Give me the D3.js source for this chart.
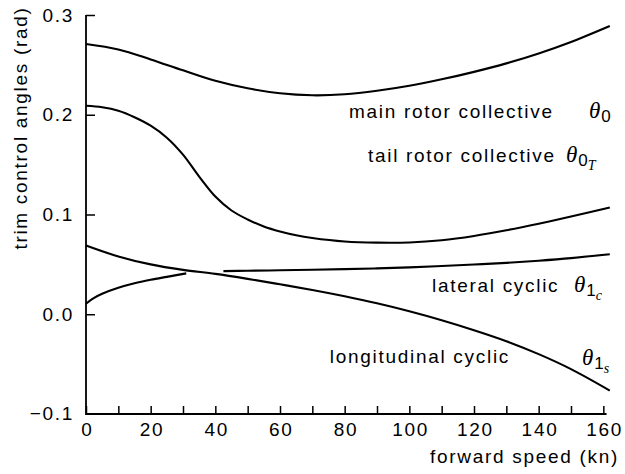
<!DOCTYPE html>
<html>
<head>
<meta charset="utf-8">
<script src="https://cdn.jsdelivr.net/npm/d3@7"></script>
<style>
  body { margin: 0; background: #fff; }
  svg { display: block; }
  .lbl { font-family: "Liberation Sans", Arial, sans-serif; font-size: 19px; letter-spacing: 1.7px; fill: #000; }
  .th { font-family: "Liberation Serif", "Times New Roman", serif; font-style: italic; }
  .sub { font-family: "Liberation Sans", Arial, sans-serif; }
</style>
</head>
<body>
<svg width="625" height="474"></svg>
<script>
// forward speed (kn) vs trim control angle (rad)
var mainSpeed = [0, 10, 20, 30, 40, 50, 60, 70, 80, 90, 100, 110, 120, 130, 140, 150, 162];
var mainAngle = [0.271, 0.2655, 0.2555, 0.2445, 0.234, 0.2265, 0.2215, 0.2195, 0.2205, 0.224, 0.229, 0.2355, 0.243, 0.2515, 0.2615, 0.273, 0.289];

var tailSpeed = [0, 5, 10, 15, 20, 25, 30, 35, 40, 45, 50, 55, 60, 65, 70, 80, 90, 100, 110, 120, 130, 140, 150, 162];
var tailAngle = [0.209, 0.2075, 0.204, 0.1975, 0.189, 0.177, 0.160, 0.138, 0.118, 0.104, 0.095, 0.088, 0.083, 0.0792, 0.0765, 0.073, 0.0718, 0.072, 0.0742, 0.0785, 0.0842, 0.0908, 0.098, 0.107];

var latSpeed1 = [0, 2, 5, 10, 15, 20, 25, 31];
var latAngle1 = [0.0105, 0.0155, 0.0205, 0.0265, 0.031, 0.0345, 0.0375, 0.041];
var latSpeed2 = [42.5, 50, 60, 70, 80, 90, 100, 110, 120, 130, 140, 150, 162];
var latAngle2 = [0.0432, 0.0436, 0.0441, 0.0446, 0.0452, 0.046, 0.047, 0.0483, 0.0498, 0.0515, 0.0537, 0.0563, 0.0602];

var lonSpeed = [0, 10, 20, 30, 40, 50, 60, 70, 80, 90, 100, 110, 120, 130, 140, 150, 162];
var lonAngle = [0.069, 0.058, 0.050, 0.0445, 0.0405, 0.0355, 0.030, 0.0243, 0.018, 0.011, 0.003, -0.006, -0.016, -0.027, -0.040, -0.055, -0.0765];

var xTicks = d3.range(0, 161, 10);
var yTicks = [0.3, 0.2, 0.1, 0.0];

var svg = d3.select("svg");

var x = d3.scaleLinear().domain([0, 162]).range([86, 609.8]);
var y = d3.scaleLinear().domain([-0.1, 0.3]).range([414, 15]);

function pairs(xs, ys) {
  return xs.map(function(v, i) { return [v, ys[i]]; });
}

var line = d3.line()
    .x(function(d) { return x(d[0]); })
    .y(function(d) { return y(d[1]); })
    .curve(d3.curveCatmullRom.alpha(0.5));

var series = [
  pairs(mainSpeed, mainAngle),
  pairs(tailSpeed, tailAngle),
  pairs(latSpeed1, latAngle1),
  pairs(latSpeed2, latAngle2),
  pairs(lonSpeed, lonAngle)
];

// 曲線
svg.append("g")
  .selectAll("path")
  .data(series)
  .enter().append("path")
    .attr("d", line)
    .attr("fill", "none")
    .attr("stroke", "#000")
    .attr("stroke-width", 2.1);

// x axis
var xAxis = d3.axisBottom(x)
    .tickValues(xTicks)
    .tickSizeInner(-8)
    .tickSizeOuter(0)
    .tickPadding(9)
    .tickFormat(function(d) { return d % 20 === 0 ? d : ""; });

var gx = svg.append("g")
    .attr("transform", "translate(0," + y(-0.1) + ")")
    .call(xAxis);
gx.select(".domain").remove();
gx.selectAll(".tick line").attr("stroke-width", 1.5);
gx.selectAll("text").attr("class", "lbl").attr("font-size", null).attr("font-family", null)
    .attr("dx", "0.85px");

// y axis
var yAxis = d3.axisLeft(y)
    .tickValues(yTicks)
    .tickSizeInner(-9)
    .tickSizeOuter(0)
    .tickPadding(12)
    .tickFormat(d3.format(".1f"));

var gy = svg.append("g")
    .attr("transform", "translate(" + x(0) + ",0)")
    .call(yAxis);
gy.select(".domain").remove();
gy.selectAll(".tick line").attr("stroke-width", 1.5);
gy.selectAll("text").attr("class", "lbl").attr("font-size", null).attr("font-family", null)
    .attr("x", -12);

// -0.1 label at corner
svg.append("text")
    .attr("class", "lbl")
    .attr("x", x(0) - 12)
    .attr("y", y(-0.1))
    .attr("dy", "0.32em")
    .attr("text-anchor", "end")
    .text("\u22120.1");

// axis lines
svg.append("path")
    .attr("d", "M" + x(0) + "," + y(0.3) + "V" + y(-0.1) + "H" + x(161))
    .attr("fill", "none")
    .attr("stroke", "#000")
    .attr("stroke-width", 1.8);

// axis titles
svg.append("text")
    .attr("class", "lbl")
    .attr("x", 619)
    .attr("y", 463)
    .attr("text-anchor", "end")
    .text("forward speed (kn)");

svg.append("text")
    .attr("class", "lbl")
    .attr("transform", "translate(27,128) rotate(-90)")
    .attr("text-anchor", "middle")
    .text("trim control angles (rad)");

// 曲線ラベル
var names = [
  { text: "main rotor collective", x: 349, y: 118 },
  { text: "tail rotor collective", x: 368, y: 162 },
  { text: "lateral cyclic", x: 432, y: 292 },
  { text: "longitudinal cyclic", x: 510, y: 363, anchor: "end" }
];
svg.append("g")
  .selectAll("text")
  .data(names)
  .enter().append("text")
    .attr("class", "lbl")
    .attr("x", function(d) { return d.x; })
    .attr("y", function(d) { return d.y; })
    .attr("text-anchor", function(d) { return d.anchor || "start"; })
    .text(function(d) { return d.text; });

// θ symbols
var symbols = [
  { x: 589, y: 118, sub: "0", sub2: "" },
  { x: 566, y: 162, sub: "0", sub2: "T" },
  { x: 574, y: 292, sub: "1", sub2: "c" },
  { x: 582, y: 365, sub: "1", sub2: "s" }
];
symbols.forEach(function(s) {
  var t = svg.append("text").attr("x", s.x).attr("y", s.y).attr("fill", "#000");
  t.append("tspan").attr("class", "th").attr("font-size", 23).text("\u03b8");
  t.append("tspan").attr("class", "sub").attr("font-size", 17).attr("dx", 1).attr("dy", 4).text(s.sub);
  if (s.sub2) {
    t.append("tspan").attr("class", "th").attr("font-size", 14).attr("dy", 4).text(s.sub2);
  }
});
</script>
</body>
</html>
